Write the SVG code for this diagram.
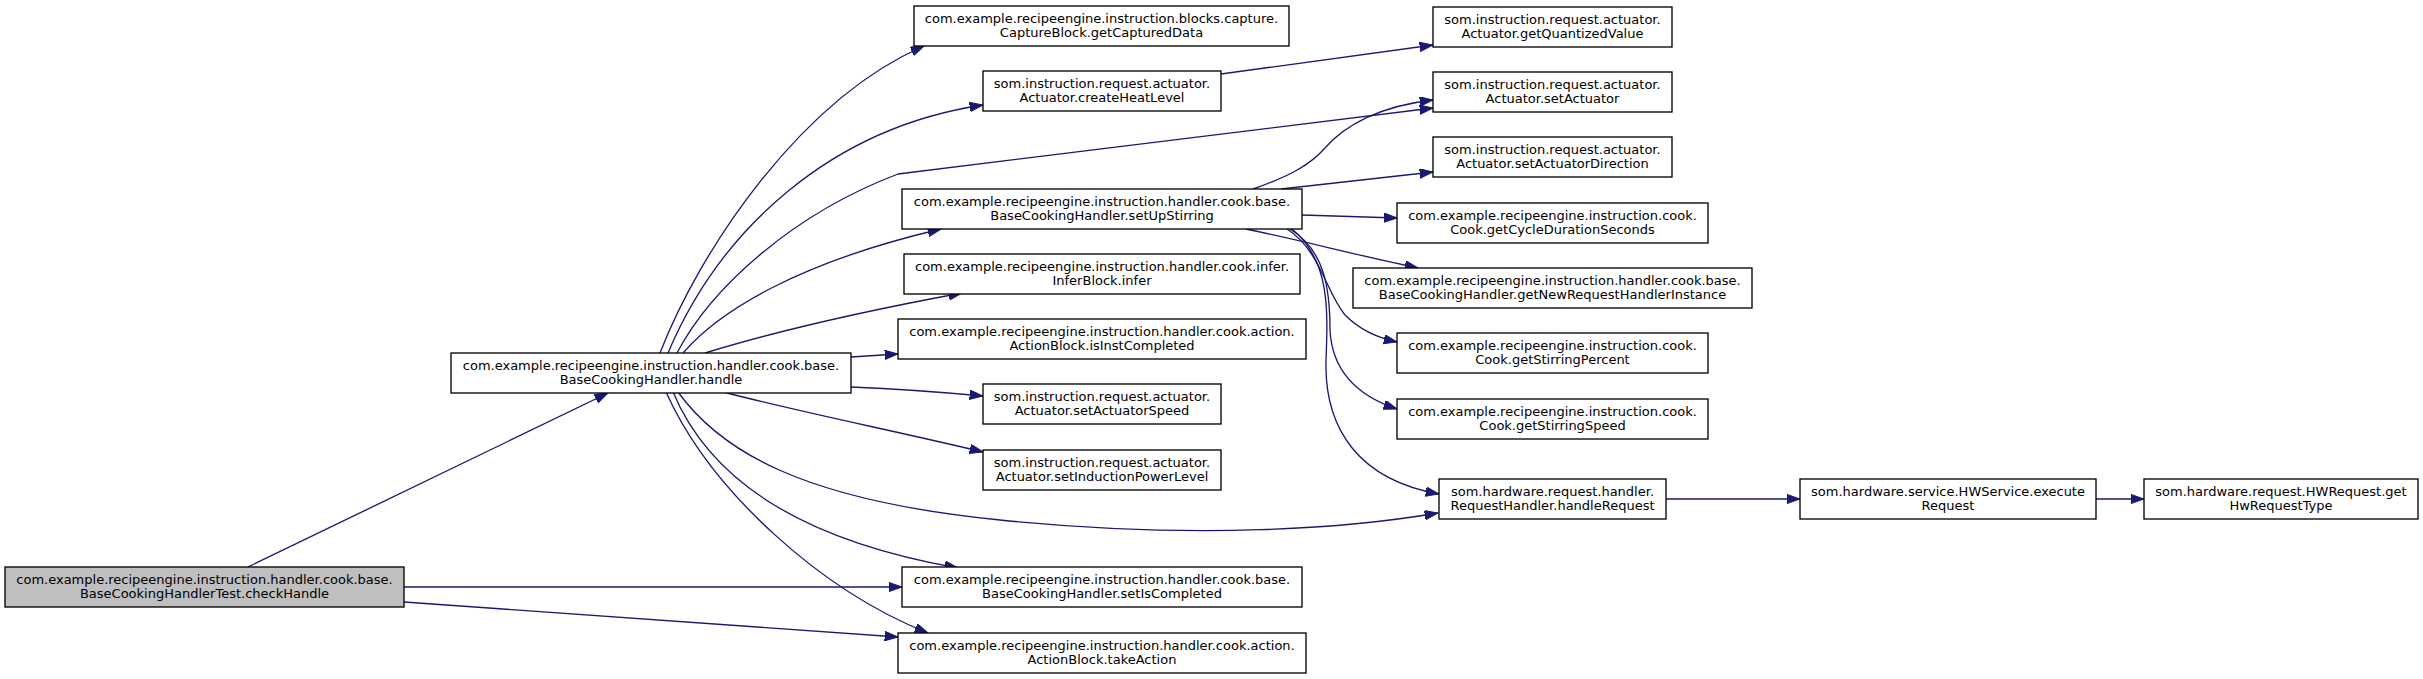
<svg xmlns="http://www.w3.org/2000/svg" width="2423" height="679" viewBox="0 0 2423 679">
<defs>
<style>
.n rect{fill:#ffffff;stroke:#000000;stroke-width:1.33}
.n.root rect{fill:#bfbfbf}
.n text{font-family:"DejaVu Sans","Liberation Sans",sans-serif;font-size:13px;fill:#000000;text-anchor:middle}
.e path{fill:none;stroke:#191970;stroke-width:1.33;marker-end:url(#ah)}
</style>
<marker id="ah" markerUnits="userSpaceOnUse" markerWidth="14" markerHeight="10" viewBox="0 0 14 10" refX="13.3" refY="4.7" orient="auto">
<path d="M0,0 L13.3,4.7 L0,9.4 z" fill="#191970" stroke="#191970" stroke-width="1"/>
</marker>
</defs>
<rect width="2423" height="679" fill="#ffffff"/>
<g id="connectors" class="e">
<path d="M248,567 L608,393"/>
<path d="M404,587 L902,587"/>
<path d="M404,602 L898,637"/>
<path d="M660,353 C700,250 800,100 924,46"/>
<path d="M668,353 C720,230 830,128 983,105"/>
<path d="M677,353 C710,290 790,215 898,174 L1433,108"/>
<path d="M683,353 C720,310 800,262 941,229"/>
<path d="M705,353 C780,330 870,310 962,293"/>
<path d="M851,357 L898,354"/>
<path d="M851,387 C900,389 940,392 983,396"/>
<path d="M723,392 C800,412 900,432 983,452"/>
<path d="M678,392 C720,450 800,500 1000,520 C1200,540 1350,528 1438,513"/>
<path d="M673,392 C710,480 800,540 958,568"/>
<path d="M666,392 C710,490 820,590 928,633"/>
<path d="M1221,74 L1433,45"/>
<path d="M1253,189 C1290,176 1310,165 1325,148 C1345,125 1380,106 1433,100"/>
<path d="M1281,189 L1433,172"/>
<path d="M1302,215 L1397,218"/>
<path d="M1246,229 C1300,240 1360,256 1418,268"/>
<path d="M1287,229 C1320,250 1325,290 1345,315 C1360,330 1378,338 1397,342"/>
<path d="M1290,229 C1325,250 1330,290 1330,330 C1332,370 1355,395 1397,409"/>
<path d="M1292,229 C1330,260 1328,310 1326,360 C1324,430 1360,480 1439,494"/>
<path d="M1666,499 L1800,499"/>
<path d="M2096,499 L2144,499"/>
</g>
<g id="checkHandle" class="n root"><rect x="5" y="567" width="399" height="40"/><text x="204.5" y="583.5">com.example.recipeengine.instruction.handler.cook.base.</text><text x="204.5" y="598">BaseCookingHandlerTest.checkHandle</text></g>
<g id="handle" class="n"><rect x="451" y="353" width="400" height="40"/><text x="651" y="369.5">com.example.recipeengine.instruction.handler.cook.base.</text><text x="651" y="384">BaseCookingHandler.handle</text></g>
<g id="getCapturedData" class="n"><rect x="914" y="6" width="375" height="40"/><text x="1101.5" y="22.5">com.example.recipeengine.instruction.blocks.capture.</text><text x="1101.5" y="37">CaptureBlock.getCapturedData</text></g>
<g id="createHeatLevel" class="n"><rect x="983" y="71" width="238" height="40"/><text x="1102" y="87.5">som.instruction.request.actuator.</text><text x="1102" y="102">Actuator.createHeatLevel</text></g>
<g id="setUpStirring" class="n"><rect x="902" y="189" width="400" height="40"/><text x="1102" y="205.5">com.example.recipeengine.instruction.handler.cook.base.</text><text x="1102" y="220">BaseCookingHandler.setUpStirring</text></g>
<g id="infer" class="n"><rect x="904" y="254" width="396" height="40"/><text x="1102" y="270.5">com.example.recipeengine.instruction.handler.cook.infer.</text><text x="1102" y="285">InferBlock.infer</text></g>
<g id="isInstCompleted" class="n"><rect x="898" y="319" width="408" height="40"/><text x="1102" y="335.5">com.example.recipeengine.instruction.handler.cook.action.</text><text x="1102" y="350">ActionBlock.isInstCompleted</text></g>
<g id="setActuatorSpeed" class="n"><rect x="983" y="384" width="238" height="40"/><text x="1102" y="400.5">som.instruction.request.actuator.</text><text x="1102" y="415">Actuator.setActuatorSpeed</text></g>
<g id="setInductionPowerLevel" class="n"><rect x="983" y="450" width="238" height="40"/><text x="1102" y="466.5">som.instruction.request.actuator.</text><text x="1102" y="481">Actuator.setInductionPowerLevel</text></g>
<g id="setIsCompleted" class="n"><rect x="902" y="567" width="400" height="40"/><text x="1102" y="583.5">com.example.recipeengine.instruction.handler.cook.base.</text><text x="1102" y="598">BaseCookingHandler.setIsCompleted</text></g>
<g id="takeAction" class="n"><rect x="898" y="633" width="408" height="40"/><text x="1102" y="649.5">com.example.recipeengine.instruction.handler.cook.action.</text><text x="1102" y="664">ActionBlock.takeAction</text></g>
<g id="getQuantizedValue" class="n"><rect x="1433" y="7" width="239" height="40"/><text x="1552.5" y="23.5">som.instruction.request.actuator.</text><text x="1552.5" y="38">Actuator.getQuantizedValue</text></g>
<g id="setActuator" class="n"><rect x="1433" y="72" width="239" height="40"/><text x="1552.5" y="88.5">som.instruction.request.actuator.</text><text x="1552.5" y="103">Actuator.setActuator</text></g>
<g id="setActuatorDirection" class="n"><rect x="1433" y="137" width="239" height="40"/><text x="1552.5" y="153.5">som.instruction.request.actuator.</text><text x="1552.5" y="168">Actuator.setActuatorDirection</text></g>
<g id="getCycleDurationSeconds" class="n"><rect x="1397" y="203" width="311" height="40"/><text x="1552.5" y="219.5">com.example.recipeengine.instruction.cook.</text><text x="1552.5" y="234">Cook.getCycleDurationSeconds</text></g>
<g id="getNewRequestHandlerInstance" class="n"><rect x="1353" y="268" width="399" height="40"/><text x="1552.5" y="284.5">com.example.recipeengine.instruction.handler.cook.base.</text><text x="1552.5" y="299">BaseCookingHandler.getNewRequestHandlerInstance</text></g>
<g id="getStirringPercent" class="n"><rect x="1397" y="333" width="311" height="40"/><text x="1552.5" y="349.5">com.example.recipeengine.instruction.cook.</text><text x="1552.5" y="364">Cook.getStirringPercent</text></g>
<g id="getStirringSpeed" class="n"><rect x="1397" y="399" width="311" height="40"/><text x="1552.5" y="415.5">com.example.recipeengine.instruction.cook.</text><text x="1552.5" y="430">Cook.getStirringSpeed</text></g>
<g id="handleRequest" class="n"><rect x="1439" y="479" width="227" height="40"/><text x="1552.5" y="495.5">som.hardware.request.handler.</text><text x="1552.5" y="510">RequestHandler.handleRequest</text></g>
<g id="executeRequest" class="n"><rect x="1800" y="479" width="296" height="40"/><text x="1948" y="495.5">som.hardware.service.HWService.execute</text><text x="1948" y="510">Request</text></g>
<g id="getHwRequestType" class="n"><rect x="2144" y="479" width="274" height="40"/><text x="2281" y="495.5">som.hardware.request.HWRequest.get</text><text x="2281" y="510">HwRequestType</text></g>
</svg>
